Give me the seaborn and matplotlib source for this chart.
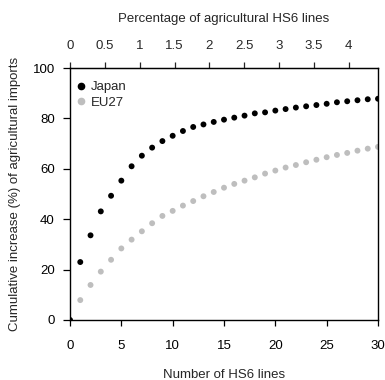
import matplotlib
matplotlib.use("Agg")
import matplotlib.pyplot as plt
import seaborn as sns
import pandas as pd
from matplotlib.lines import Line2D

n_lines = list(range(0, 31))
japan = [0, 23.0, 33.6, 43.1, 49.3, 55.3, 61.0, 65.2, 68.4, 71.0, 73.1, 75.0, 76.6, 77.6, 78.6,
         79.5, 80.3, 81.1, 82.0, 82.4, 83.1, 83.7, 84.3, 84.8, 85.3, 85.8, 86.4, 86.8, 87.2, 87.6, 87.8]
eu27 = [0, 7.9, 13.9, 19.2, 23.9, 28.4, 31.9, 35.2, 38.4, 41.3, 43.3, 45.4, 47.2, 49.1, 50.8,
        52.5, 54.0, 55.3, 56.6, 58.1, 59.3, 60.5, 61.5, 62.6, 63.6, 64.6, 65.5, 66.3, 67.2, 68.0, 68.7]
total_lines = 679
top_ticks = [0, 0.5, 1, 1.5, 2, 2.5, 3, 3.5, 4]
top_labels = ["0", "0.5", "1", "1.5", "2", "2.5", "3", "3.5", "4"]

df = pd.DataFrame({
    "n": n_lines * 2,
    "value": eu27 + japan,
    "series": ["EU27"] * len(eu27) + ["Japan"] * len(japan),
})

sns.set_style("ticks")
plt.rcParams['font.family'] = ['Liberation Sans', 'DejaVu Sans']
plt.rcParams['font.size'] = 9.5

fig = plt.figure(figsize=(3.85, 3.8), dpi=100)
ax = fig.add_axes([70 / 385, 60 / 380, 308 / 385, 252 / 380])
sns.scatterplot(data=df, x="n", y="value", hue="series",
                palette={"Japan": "black", "EU27": "#BEBEBE"},
                s=18, edgecolor="none", ax=ax, legend=False)
ax.set_xlim(0, 30)
ax.set_ylim(0, 100)
ax.set_xticks([0, 5, 10, 15, 20, 25, 30])
ax.set_yticks([0, 20, 40, 60, 80, 100])
ax.set_xlabel("Number of HS6 lines", labelpad=12.5)
ax.set_ylabel("Cumulative increase (%) of agricultural imports", labelpad=8)
for sp in ax.spines.values():
    sp.set_visible(True)
    sp.set_color("black")
    sp.set_linewidth(1.0)
ax.tick_params(axis="x", direction="out", length=4.5, width=0.9, colors="black", pad=10)
ax.tick_params(axis="y", direction="out", length=5, width=0.9, colors="black", pad=6)

sec = ax.secondary_xaxis("top", functions=(lambda x: x * 100 / total_lines,
                                           lambda p: p * total_lines / 100))
sec.set_xticks(top_ticks)
sec.set_xticklabels(top_labels)
sec.tick_params(direction="out", length=4.5, width=0.9, pad=7)
sec.set_xlabel("Percentage of agricultural HS6 lines", labelpad=13)

handles = [Line2D([], [], marker="o", linestyle="none", color="black", markersize=4.5),
           Line2D([], [], marker="o", linestyle="none", color="#BEBEBE", markersize=4.5)]
ax.legend(handles, ["Japan", "EU27"], loc="upper left", frameon=False,
          bbox_to_anchor=(-0.01, 0.98),
          handletextpad=0.2, borderaxespad=0.3, handlelength=1.0, labelspacing=0.25,
          borderpad=0.3)

fig.savefig("out.png", dpi=100)
